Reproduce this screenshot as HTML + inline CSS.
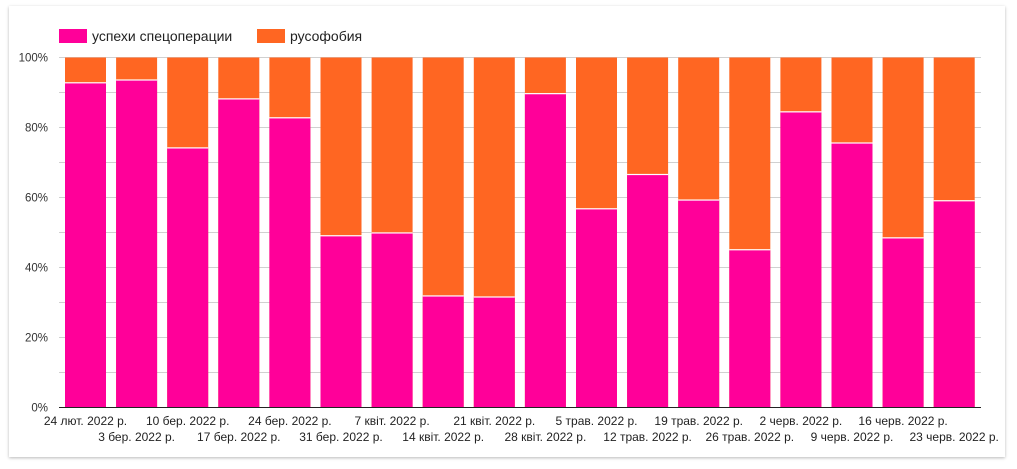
<!DOCTYPE html>
<html><head><meta charset="utf-8"><style>
html,body{margin:0;padding:0;background:#fff;}
body{width:1017px;height:469px;position:relative;overflow:hidden;font-family:"Liberation Sans",Arial,sans-serif;}
.card{position:absolute;left:9px;top:6px;width:996px;height:451px;background:#fff;box-shadow:0 1px 3px rgba(0,0,0,0.28);}
svg{position:absolute;left:0;top:0;}
</style></head><body>
<div class="card"></div>
<svg width="1017" height="469" viewBox="0 0 1017 469" font-family="Liberation Sans, Arial, sans-serif">
<g stroke="#d0d0d0" stroke-width="1">
<line x1="59" x2="981" y1="57.5" y2="57.5"/>
<line x1="59" x2="981" y1="92.5" y2="92.5"/>
<line x1="59" x2="981" y1="127.5" y2="127.5"/>
<line x1="59" x2="981" y1="162.5" y2="162.5"/>
<line x1="59" x2="981" y1="197.5" y2="197.5"/>
<line x1="59" x2="981" y1="232.5" y2="232.5"/>
<line x1="59" x2="981" y1="267.5" y2="267.5"/>
<line x1="59" x2="981" y1="302.5" y2="302.5"/>
<line x1="59" x2="981" y1="337.5" y2="337.5"/>
<line x1="59" x2="981" y1="372.5" y2="372.5"/>
</g>
<g id="bars"></g>
<line x1="59" x2="981" y1="407.5" y2="407.5" stroke="#222" stroke-width="1"/>
<g font-size="11.5" fill="#333" text-anchor="end">
<text x="48" y="61.5">100%</text>
<text x="48" y="131.5">80%</text>
<text x="48" y="201.5">60%</text>
<text x="48" y="271.5">40%</text>
<text x="48" y="341.5">20%</text>
<text x="48" y="411.5">0%</text>
</g>
<rect x="59" y="29" width="28" height="14" fill="#ff0099"/>
<text x="92" y="41" font-size="14" fill="#222">успехи спецоперации</text>
<rect x="257" y="29" width="28" height="14" fill="#ff6622"/>
<text x="290" y="41" font-size="14" fill="#222">русофобия</text>
<g id="xl" font-size="12" fill="#222" text-anchor="middle"></g>
</svg>
<script>
(function(){
var vals=[92.6,93.4,74.0,88.0,82.6,48.9,49.7,31.7,31.4,89.5,56.6,66.4,59.1,44.9,84.3,75.4,48.3,58.9];
var labels=["24 лют. 2022 р.","3 бер. 2022 р.","10 бер. 2022 р.","17 бер. 2022 р.","24 бер. 2022 р.","31 бер. 2022 р.","7 квіт. 2022 р.","14 квіт. 2022 р.","21 квіт. 2022 р.","28 квіт. 2022 р.","5 трав. 2022 р.","12 трав. 2022 р.","19 трав. 2022 р.","26 трав. 2022 р.","2 черв. 2022 р.","9 черв. 2022 р.","16 черв. 2022 р.","23 черв. 2022 р."];
var ns="http://www.w3.org/2000/svg";
var g=document.getElementById("bars"),xl=document.getElementById("xl");
function el(n,a,p){var e=document.createElementNS(ns,n);for(var k in a)e.setAttribute(k,a[k]);p.appendChild(e);return e;}
for(var i=0;i<18;i++){
 var x=65+51.1*i,w=41,ytop=57.5,bot=407.3,yt=bot-vals[i]*3.5;
 el("rect",{x:x,y:ytop,width:w,height:bot-ytop,fill:"#ff6622"},g);
 el("rect",{x:x,y:yt,width:w,height:bot-yt,fill:"#ff0099"},g);
 el("rect",{x:x,y:yt-1,width:w,height:1.2,fill:"#fff"},g);
 var t=el("text",{x:x+w/2,y:(i%2==0)?425:441},xl);t.textContent=labels[i];
}
})();
</script>
</body></html>
